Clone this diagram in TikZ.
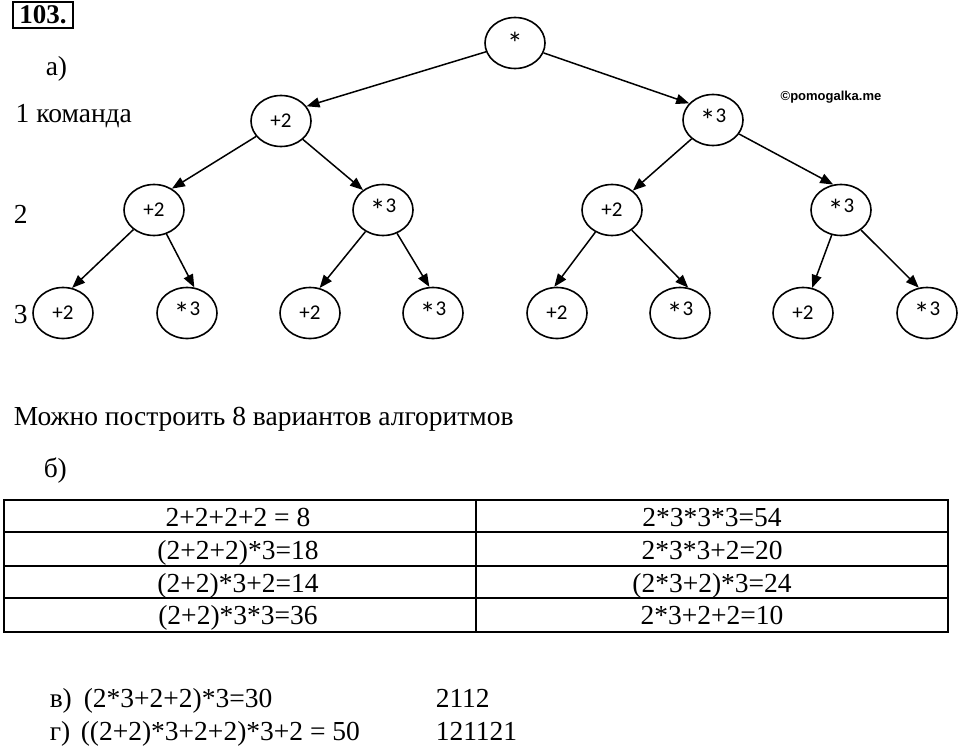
\documentclass[tikz,border=0pt]{standalone}
\usepackage{fontspec}
\setmainfont{Liberation Serif}
\newfontfamily\opfont{Carlito}
\newfontfamily\wmfont{Liberation Sans}
\usetikzlibrary{arrows.meta, shapes.geometric}
\newcommand\opstar{\raisebox{-0.4em}{\scalebox{1.5}{*}}}
\tikzset{op/.style={ellipse, draw, line width=1.6pt, minimum width=60pt, minimum height=51pt, inner sep=0pt, font=\opfont\fontsize{21}{24}\selectfont}}

\begin{document}
\begin{tikzpicture}[x=1pt, y=-1pt, >={Triangle[length=13pt,width=10pt]}, line width=1.5pt, font=\fontsize{27.5}{32}\selectfont, lbl/.style={anchor=base west, inner sep=0pt}]
\useasboundingbox (0,0) rectangle (960,749);
\node[draw, line width=1.3pt, minimum width=60pt, minimum height=26pt, inner sep=0pt, font=\bfseries\fontsize{27}{29}\selectfont] (num) at (43,15) {103.};
\node[lbl] (pa) at (45,76) {а)};
\node[lbl] (lev1) at (15,122) {1 команда};
\node[lbl] (lev2) at (13,223) {2};
\node[lbl] (lev3) at (13,323) {3};
\node[font=\wmfont\bfseries\fontsize{13}{15}\selectfont] (wm) at (831,97) {©pomogalka.me};
% tree
\node[op] (r) at (515,43) {\opstar};
\node[op] (rp) at (281,121) {+2};
\node[op] (rm) at (713,120) {\opstar3};
\node[op] (rpp) at (154,210) {+2};
\node[op] (rpm) at (383,210) {\opstar3};
\node[op] (rmp) at (612,210) {+2};
\node[op] (rmm) at (841,210) {\opstar3};
\node[op] (rppp) at (63,313) {+2};
\node[op] (rppm) at (187,313) {\opstar3};
\node[op] (rpmp) at (310,313) {+2};
\node[op] (rpmm) at (433,313) {\opstar3};
\node[op] (rmpp) at (557,313) {+2};
\node[op] (rmpm) at (680,313) {\opstar3};
\node[op] (rmmp) at (803,313) {+2};
\node[op] (rmmm) at (927,313) {\opstar3};
\draw[->] (r) -- (rp.30);
\draw[->] (r) -- (rm.145);
\draw[->] (rp) -- (rpp.50);
\draw[->] (rp) -- (rpm.135);
\draw[->] (rm) -- (rmp.43);
\draw[->] (rm) -- (rmm.107);
\draw[->] (rpp) -- (rppp.70);
\draw[->] (rpp) -- (rppm.74);
\draw[->] (rpm) -- (rpmp.69);
\draw[->] (rpm) -- (rpmm.98);
\draw[->] (rmp) -- (rmpp.96);
\draw[->] (rmp) -- (rmpm.72);
\draw[->] (rmm) -- (rmmp.70);
\draw[->] (rmm) -- (rmmm.108);
\node[lbl] (count) at (13,425) {Можно построить 8 вариантов алгоритмов};
\node[lbl] (pb) at (43,477) {б)};
% table
\draw[line width=1.8pt] (4,500) rectangle (948,632);
\draw[line width=1.3pt] (4,532) -- (948,532) (4,566) -- (948,566) (4,598) -- (948,598) (476,500) -- (476,632);
\node[anchor=base, inner sep=0pt] (c11) at (238,526) {2+2+2+2 = 8};
\node[anchor=base, inner sep=0pt] (c12) at (712,526) {2*3*3*3=54};
\node[anchor=base, inner sep=0pt] (c21) at (238,559) {(2+2+2)*3=18};
\node[anchor=base, inner sep=0pt] (c22) at (712,559) {2*3*3+2=20};
\node[anchor=base, inner sep=0pt] (c31) at (238,592) {(2+2)*3+2=14};
\node[anchor=base, inner sep=0pt] (c32) at (712,592) {(2*3+2)*3=24};
\node[anchor=base, inner sep=0pt] (c41) at (238,624) {(2+2)*3*3=36};
\node[anchor=base, inner sep=0pt] (c42) at (712,624) {2*3+2+2=10};
% answers
\node[lbl] (pv) at (49,707) {в)};
\node[lbl] (vexp) at (83,707) {(2*3+2+2)*3=30};
\node[lbl] (vcode) at (435,707) {2112};
\node[lbl] (pg) at (49,740) {г)};
\node[lbl] (gexp) at (80,740) {((2+2)*3+2+2)*3+2 = 50};
\node[lbl] (gcode) at (435,740) {121121};
\end{tikzpicture}
\end{document}
